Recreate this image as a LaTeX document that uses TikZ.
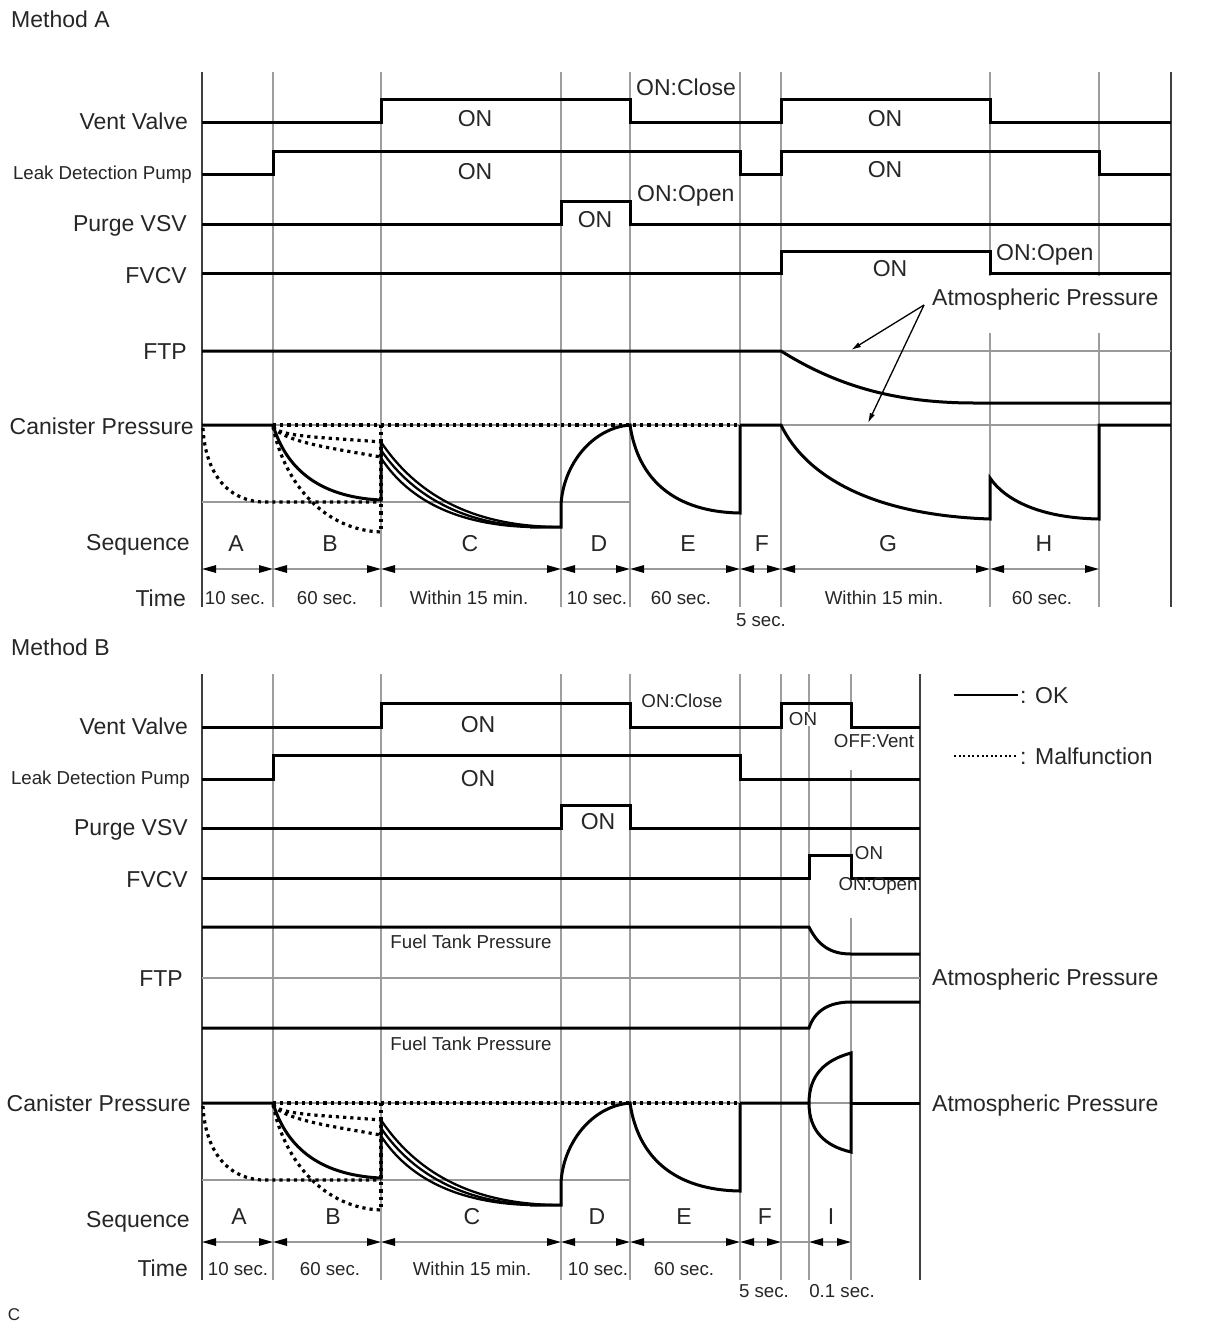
\documentclass[tikz,border=0pt]{standalone}
\usepackage{fontspec}
\setmainfont{Liberation Sans}
\usetikzlibrary{arrows.meta}
\newcommand\canisterCommon{%
 \draw[ref] (202,502) -- (630,502);
 \draw[mal] (273,425) -- (740,425);
 \draw[mal] (203,428) .. controls (205,470) and (225,500) .. (262,502) -- (381,502);
 \draw[mal] (381,425) -- (381,532);
 \draw[mal] (273,427) .. controls (282,437) and (320,437) .. (381,442);
 \draw[mal] (273,427) .. controls (285,442) and (330,448) .. (381,457);
 \draw[mal] (273,427) .. controls (285,485) and (325,530) .. (381,532);
 \draw[sig] (202,425) -- (273,425) .. controls (285,465) and (315,497) .. (381,500) -- (381,442);
 \draw[sig,line width=2.3pt] (381,442) .. controls (420,500) and (480,527) .. (561,527);
 \draw[sig,line width=2.3pt] (381,450) .. controls (415,500) and (470,526) .. (540,527);
 \draw[sig,line width=2.3pt] (381,458) .. controls (410,502) and (460,525) .. (530,527);
 \draw[sig] (530,527) -- (561,527) -- (561,505) .. controls (563,465) and (592,428) .. (630,425)
   .. controls (638,480) and (675,512) .. (740,513) -- (740,425);
}
\begin{document}
\begin{tikzpicture}[x=1pt,y=-1pt,
 sig/.style={line width=3pt, line join=miter, black},
 grd/.style={line width=1.7pt, black!38},
 ref/.style={line width=1.5pt, black!40},
 axis/.style={line width=2.8pt, black!75},
 mal/.style={line width=3.2pt, dash pattern=on 3.2pt off 4pt, black},
 lbl/.style={font=\fontsize{23}{23}\selectfont, text height=16.5pt, text depth=0pt, inner sep=0pt, text=black!85},
 sml/.style={font=\fontsize{18.7}{18.7}\selectfont, text height=13.4pt, text depth=0pt, inner sep=0pt, text=black!85},
 dim/.style={line width=1.5pt, black!40, {Triangle[length=14pt,width=7.5pt,color=black]}-{Triangle[length=14pt,width=7.5pt,color=black]}},
 ptr/.style={line width=1.3pt, black, -{Latex[length=10pt,width=5.5pt]}},
]
\useasboundingbox[fill=white] (0,0) rectangle (1210,1328);

%================ METHOD A =================
\node[lbl,anchor=west] (mA) at (11,19) {Method A};
% grid
\foreach \x in {273,381,561,630,740,781} \draw[grd] (\x,72) -- (\x,607);
\foreach \x in {990,1099} {\draw[grd] (\x,72) -- (\x,276); \draw[grd] (\x,333) -- (\x,607);}
\draw[axis] (202,72) -- (202,607);
\draw[axis] (1171,72) -- (1171,607);
% row labels
\node[lbl,anchor=east] (aVV) at (188,121) {Vent Valve};
\node[sml,anchor=east] (aLDP) at (192,173) {Leak Detection Pump};
\node[lbl,anchor=east] (aPV) at (187,223) {Purge VSV};
\node[lbl,anchor=east] (aFV) at (187,275) {FVCV};
\node[lbl,anchor=east] (aFTP) at (187,351) {FTP};
\node[lbl,anchor=east] (aCP) at (194,426) {Canister Pressure};
\node[lbl,anchor=east] (aSQ) at (190,542) {Sequence};
\node[lbl,anchor=east] (aTM) at (186,598) {Time};
% signals
\draw[sig] (202,122) -- (381,122) -- (381,99) -- (630,99) -- (630,122) -- (781,122) -- (781,99) -- (990,99) -- (990,122) -- (1171,122);
\draw[sig] (202,174) -- (273,174) -- (273,151) -- (740,151) -- (740,174) -- (781,174) -- (781,151) -- (1099,151) -- (1099,174) -- (1171,174);
\draw[sig] (202,224) -- (561,224) -- (561,201) -- (630,201) -- (630,224) -- (1171,224);
\draw[sig] (202,273) -- (781,273) -- (781,251) -- (990,251) -- (990,273) -- (1171,273);
\node[lbl] (aON1) at (475,118) {ON};
\node[lbl] (aON2) at (885,118) {ON};
\node[lbl] (aON3) at (475,171) {ON};
\node[lbl] (aON4) at (885,169) {ON};
\node[lbl] (aON5) at (595,219) {ON};
\node[lbl] (aON6) at (890,268) {ON};
\node[lbl,anchor=west] (aClose) at (636,87) {ON:Close};
\node[lbl,anchor=west] (aOpen1) at (637,193) {ON:Open};
\node[lbl,anchor=west] (aOpen2) at (996,252) {ON:Open};
\node[lbl,anchor=west] (aAtm) at (932,297) {Atmospheric Pressure};
% FTP
\draw[ref] (781,351) -- (1171,351);
\draw[sig] (202,351) -- (781,351) .. controls (840,388) and (900,403) .. (975,403) -- (1171,403);
% canister
\draw[ref] (202,425) -- (1171,425);
\canisterCommon
\draw[sig] (740,425) -- (781,425) .. controls (805,475) and (870,515) .. (990,519) -- (990,478)
  .. controls (1005,500) and (1040,518) .. (1099,519) -- (1099,425) -- (1171,425);
% pointer arrows
\coordinate (aAtmO) at (924,305);
\coordinate (aAtmT1) at (851,350);
\coordinate (aAtmT2) at (868,423);
\draw[ptr] (aAtmO) -- (aAtmT1);
\draw[ptr] (aAtmO) -- (aAtmT2);
% sequence
\node[lbl] (aSA) at (236,543) {A};
\node[lbl] (aSB) at (330,543) {B};
\node[lbl] (aSC) at (470,543) {C};
\node[lbl] (aSD) at (599,543) {D};
\node[lbl] (aSE) at (688,543) {E};
\node[lbl] (aSF) at (762,543) {F};
\node[lbl] (aSG) at (888,543) {G};
\node[lbl] (aSH) at (1044,543) {H};
% time
\foreach \a/\b in {202/273,273/381,381/561,561/630,630/740,740/781,781/990,990/1099}
  \draw[dim] (\a,569) -- (\b,569);
\node[sml] (aT1) at (235,598) {10 sec.};
\node[sml] (aT2) at (327,598) {60 sec.};
\node[sml] (aT3) at (469,598) {Within 15 min.};
\node[sml] (aT4) at (597,598) {10 sec.};
\node[sml] (aT5) at (681,598) {60 sec.};
\node[sml] (aT6) at (884,598) {Within 15 min.};
\node[sml] (aT7) at (1042,598) {60 sec.};
\node[sml] (aT8) at (761,620) {5 sec.};

%================ METHOD B =================
\node[lbl,anchor=west] (mB) at (11,647) {Method B};
\foreach \x in {273,381,561,630,740,781,809} \draw[grd] (\x,674) -- (\x,1280);
\draw[grd] (851,674) -- (851,728);
\draw[grd] (851,770) -- (851,870);
\draw[grd] (851,918) -- (851,1280);
\draw[axis] (202,674) -- (202,1280);
\draw[axis] (920,674) -- (920,1280);
% row labels
\node[lbl,anchor=east] (bVV) at (188,726) {Vent Valve};
\node[sml,anchor=east] (bLDP) at (190,778) {Leak Detection Pump};
\node[lbl,anchor=east] (bPV) at (188,827) {Purge VSV};
\node[lbl,anchor=east] (bFV) at (188,879) {FVCV};
\node[lbl,anchor=east] (bFTP) at (183,978) {FTP};
\node[lbl,anchor=east] (bCP) at (191,1103) {Canister Pressure};
\node[lbl,anchor=east] (bSQ) at (190,1219) {Sequence};
\node[lbl,anchor=east] (bTM) at (188,1268) {Time};
% signals
\draw[sig] (202,727) -- (381,727) -- (381,703) -- (630,703) -- (630,727) -- (781,727) -- (781,703) -- (851,703) -- (851,727) -- (920,727);
\draw[sig] (202,779) -- (273,779) -- (273,755) -- (740,755) -- (740,779) -- (920,779);
\draw[sig] (202,828) -- (561,828) -- (561,805) -- (630,805) -- (630,828) -- (920,828);
\draw[sig] (202,878) -- (809,878) -- (809,855) -- (851,855) -- (851,878) -- (920,878);
\node[lbl] (bON1) at (478,724) {ON};
\node[lbl] (bON2) at (478,778) {ON};
\node[lbl] (bON3) at (598,821) {ON};
\node[sml] (bClose) at (682,701) {ON:Close};
\node[sml,fill=white] (bON4) at (803,719) {ON};
\node[sml] (bOFF) at (874,741) {OFF:Vent};
\node[sml] (bON5) at (869,853) {ON};
\node[sml] (bOpen) at (878,884) {ON:Open};
% FTP
\draw[ref] (202,978) -- (920,978);
\draw[sig] (202,927) -- (809,927) .. controls (818,945) and (830,954) .. (851,954) -- (920,954);
\draw[sig] (202,1028) -- (809,1028) .. controls (815,1010) and (830,1002) .. (851,1002) -- (920,1002);
\node[sml] (bFT1) at (471,942) {Fuel Tank Pressure};
\node[sml] (bFT2) at (471,1044) {Fuel Tank Pressure};
\node[lbl,anchor=west] (bAtm1) at (932,977) {Atmospheric Pressure};
\node[lbl,anchor=west] (bAtm2) at (932,1103) {Atmospheric Pressure};
% canister
\draw[ref] (202,1103) -- (920,1103);
\begin{scope}[shift={(0,678)}]
\canisterCommon
\end{scope}
\draw[sig] (740,1103) -- (809,1103) .. controls (809,1075) and (825,1060) .. (851,1053) -- (851,1152)
  .. controls (825,1146) and (809,1131) .. (809,1103);
\draw[sig] (851,1103) -- (920,1103);
% sequence
\node[lbl] (bSA) at (239,1216) {A};
\node[lbl] (bSB) at (333,1216) {B};
\node[lbl] (bSC) at (472,1216) {C};
\node[lbl] (bSD) at (597,1216) {D};
\node[lbl] (bSE) at (684,1216) {E};
\node[lbl] (bSF) at (765,1216) {F};
\node[lbl] (bSI) at (831,1216) {I};
% time
\draw[ref] (781,1242) -- (809,1242);
\foreach \a/\b in {202/273,273/381,381/561,561/630,630/740,740/781,809/851}
  \draw[dim] (\a,1242) -- (\b,1242);
\node[sml] (bT1) at (238,1269) {10 sec.};
\node[sml] (bT2) at (330,1269) {60 sec.};
\node[sml] (bT3) at (472,1269) {Within 15 min.};
\node[sml] (bT4) at (598,1269) {10 sec.};
\node[sml] (bT5) at (684,1269) {60 sec.};
\node[sml] (bT6) at (764,1291) {5 sec.};
\node[sml] (bT7) at (842,1291) {0.1 sec.};
% legend
\draw[sig,line width=1.8pt] (954,695) -- (1018,695);
\node[lbl,anchor=west] (lgOK) at (1020,695) {: OK};
\draw[line width=1.8pt, dash pattern=on 2pt off 2.6pt, black] (954,756) -- (1018,756);
\node[lbl,anchor=west] (lgMal) at (1020,756) {: Malfunction};
% footnote
\node[font=\fontsize{17}{17}\selectfont, text height=12pt, text depth=0pt, inner sep=0pt, text=black!85] (fn) at (14,1314) {C};
\end{tikzpicture}
\end{document}
